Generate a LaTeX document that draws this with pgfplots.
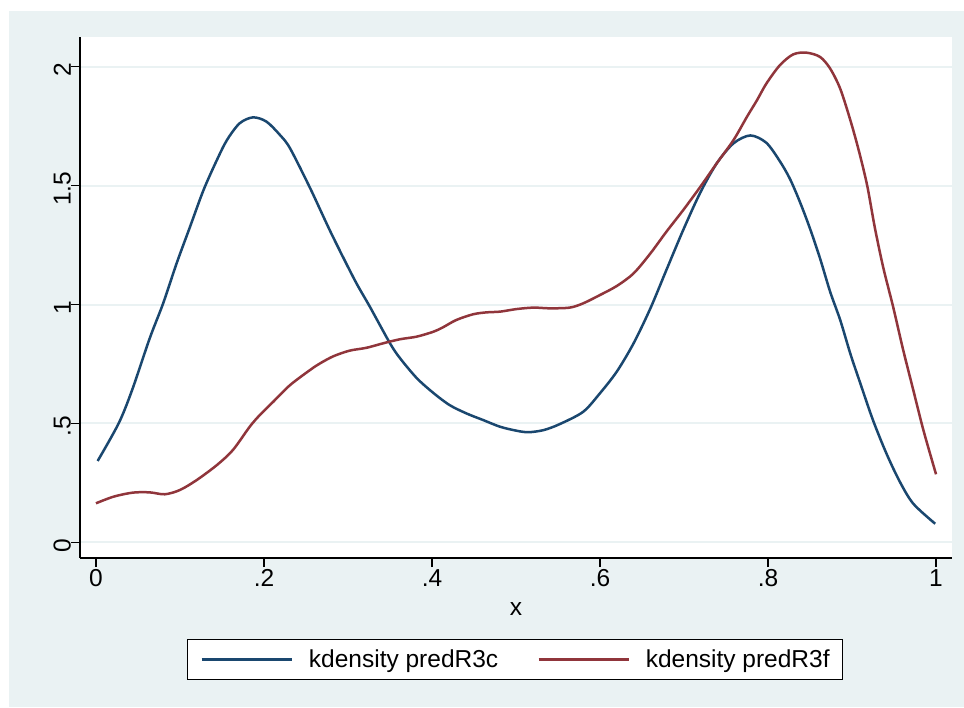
\documentclass[border=0pt]{standalone}
\usepackage{fontspec}
\setmainfont{Liberation Sans}
\usepackage{pgfplots}
\pgfplotsset{compat=1.18}
\definecolor{bgblue}{HTML}{EAF2F3}
\definecolor{gridc}{HTML}{EAF2F3}
\definecolor{snavy}{HTML}{1A476F}
\definecolor{smaroon}{HTML}{90353B}
\newcommand{\myfont}{\fontsize{24.5pt}{29pt}\selectfont}
\begin{document}
\begin{tikzpicture}
\fill[white] (0pt,0pt) rectangle (964pt,707pt);
\fill[bgblue] (9pt,0pt) rectangle (964pt,696pt);
\fill[white] (80pt,149pt) rectangle (952pt,670pt);
\begin{axis}[
  at={(80pt,149pt)}, anchor=south west,
  scale only axis, width=872pt, height=521pt,
  xmin=-0.019, xmax=1.019, ymin=-0.066, ymax=2.125,
  axis lines=left,
  axis line style={-, black, line width=1.2pt},
  tick align=outside,
  major tick length=9pt,
  tick style={black, line width=1.2pt},
  xtick={0,0.2,0.4,0.6,0.8,1},
  xticklabels={0,.2,.4,.6,.8,1},
  ytick={0,0.5,1,1.5,2},
  yticklabels={0,.5,1,1.5,2},
  tick label style={font=\myfont},
  xticklabel style={anchor=north, inner sep=0pt, yshift=-2pt},
  yticklabel style={rotate=90, anchor=south, inner sep=0pt, xshift=-3pt},
  ymajorgrids,
  grid style={gridc, line width=2pt},
  xlabel={x},
  xlabel style={font=\myfont, at={(axis description cs:0.5,-0.1094)}, anchor=base, inner sep=0pt},
  legend columns=2,
  legend image code/.code={\draw[#1] (0pt,0pt) -- (90pt,0pt);},
  legend style={
    at={(axis description cs:0.4989,-0.1948)}, anchor=center,
    draw=black, line width=1.2pt, fill=white,
    font=\myfont,
    inner xsep=13pt, inner ysep=10pt,
    nodes={inner sep=0pt, anchor=west},
    /tikz/every odd column/.append style={column sep=16pt},
    /tikz/every even column/.append style={column sep=39pt},
  },
]
\addplot[snavy, line width=2.5pt, line join=round, smooth, tension=0.5] coordinates {
(0.002,0.342) (0.027,0.500) (0.043,0.640) (0.064,0.858) (0.080,1.005)
(0.096,1.173) (0.112,1.327) (0.128,1.481) (0.144,1.608) (0.156,1.692)
(0.171,1.762) (0.187,1.787) (0.203,1.769) (0.219,1.713) (0.231,1.657)
(0.255,1.489) (0.280,1.300) (0.308,1.103) (0.326,0.991) (0.350,0.837)
(0.362,0.774) (0.382,0.690) (0.402,0.627) (0.421,0.577) (0.441,0.542)
(0.461,0.514) (0.481,0.486) (0.501,0.469) (0.515,0.463) (0.533,0.472)
(0.552,0.497) (0.580,0.549) (0.600,0.627) (0.620,0.718)
(0.640,0.837) (0.660,0.984) (0.679,1.145) (0.699,1.313) (0.719,1.468)
(0.739,1.594) (0.759,1.678) (0.779,1.711) (0.798,1.680) (0.814,1.603)
(0.826,1.529) (0.838,1.431) (0.850,1.319) (0.862,1.193) (0.874,1.053)
(0.886,0.934) (0.898,0.793) (0.910,0.667) (0.925,0.513) (0.941,0.373)
(0.957,0.254) (0.973,0.162) (0.999,0.078)
};
\addlegendentry{kdensity predR3c}
\addplot[smaroon, line width=2.5pt, line join=round, smooth, tension=0.5] coordinates {
(0.000,0.164) (0.021,0.192) (0.044,0.209) (0.064,0.210) (0.082,0.202)
(0.100,0.220) (0.120,0.262) (0.144,0.325) (0.163,0.388) (0.183,0.486)
(0.195,0.535) (0.211,0.591) (0.231,0.661) (0.255,0.725) (0.267,0.753)
(0.283,0.783) (0.302,0.806) (0.322,0.818) (0.342,0.837) (0.362,0.854)
(0.382,0.865) (0.402,0.886) (0.413,0.904) (0.429,0.935) (0.449,0.959)
(0.465,0.967) (0.481,0.970) (0.501,0.981) (0.521,0.987) (0.540,0.984)
(0.564,0.987) (0.580,1.005) (0.600,1.040) (0.620,1.078) (0.640,1.131)
(0.660,1.215) (0.679,1.306) (0.699,1.397) (0.719,1.493) (0.739,1.594)
(0.759,1.692) (0.775,1.790) (0.787,1.860) (0.798,1.929) (0.814,2.006)
(0.830,2.052) (0.846,2.059) (0.862,2.041) (0.874,1.992) (0.886,1.907)
(0.898,1.775) (0.908,1.648) (0.918,1.501) (0.927,1.326) (0.937,1.158)
(0.949,0.989) (0.961,0.807) (0.973,0.639) (0.985,0.471) (1.000,0.286)
};
\addlegendentry{kdensity predR3f}
\end{axis}
\end{tikzpicture}
\end{document}
